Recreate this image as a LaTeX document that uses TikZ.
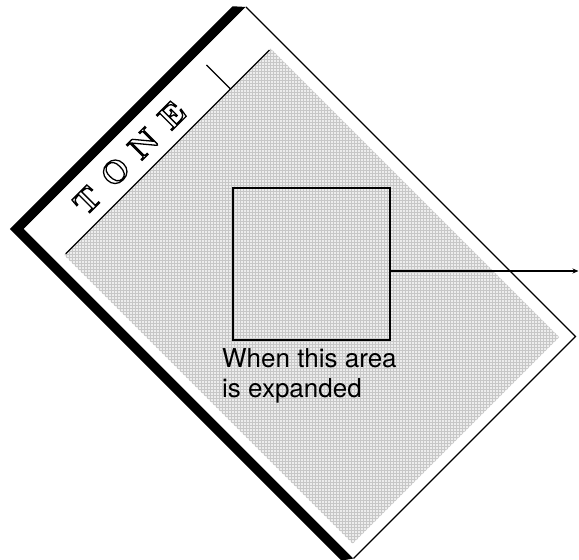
\documentclass[tikz,border=0pt]{standalone}
\usepackage{fontspec}
\usetikzlibrary{patterns,arrows.meta}
\newfontfamily\helv{TeX Gyre Heros}
% letters drawn as outlines only
\newcommand\hollow[1]{\special{pdf:literal direct 1 Tr}#1\special{pdf:literal direct 0 Tr}}
\newcommand\spaced[1]{\makebox[40pt]{#1}}

\begin{document}
\begin{tikzpicture}[x=1pt, y=1pt,
    screen/.style={fill=black!7, postaction={pattern=grid, pattern color=black!22}},
    rim/.style={line width=1.2pt},
    toneletter/.style={font=\fontsize{32}{34}\selectfont\bfseries, line width=1.3pt, transform shape, inner sep=0pt}]
  \useasboundingbox (0,0) rectangle (579,560);
  \begin{scope}[shift={(24,331)}, rotate=45]
    % card with its dark left edges
    \fill[black] (0,-466) -- (-10,-459) -- (-10,10) -- (305,10) -- (314,0) -- (0,0) -- cycle;
    \fill[white] (0,-466) rectangle (314,0);
    \draw[rim] (314,0) -- (314,-466) -- (0,-466);
    \fill[screen] (10,-47) rectangle (302,-455);
    % title strip
    \draw[rim] (12,-47) -- (300,-47);
    \draw[rim] (245,-47) -- (245,-13);
    \node[toneletter] (tone) at (125,-24) {\hollow{\spaced{T}\spaced{O}\spaced{N}\spaced{E}}};
  \end{scope}
  \node[draw, line width=1.5pt, minimum width=157pt, minimum height=152pt, inner sep=0pt] (area) at (311.5,296) {};
  \node[anchor=base west, align=left, inner sep=0pt, font=\helv\fontsize{26}{30}\selectfont] (note) at (222,162) {When this area\\is expanded};
  \coordinate (out) at (578.5,289);
  \draw[rim, -{Stealth[length=6pt, width=5pt]}] (area.east |- out) -- (out);
\end{tikzpicture}
\end{document}
